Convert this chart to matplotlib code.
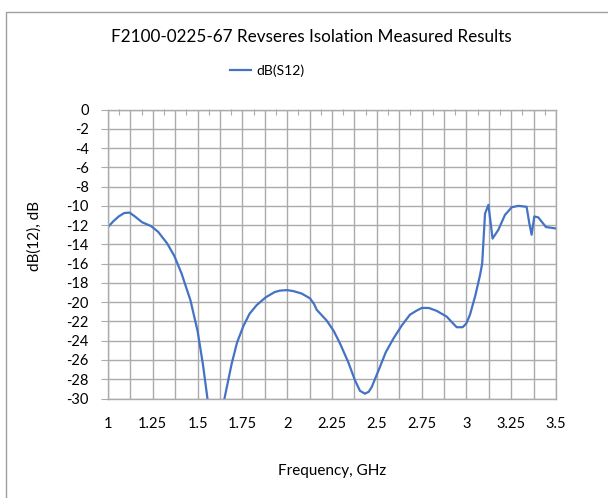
import matplotlib
matplotlib.use('Agg')
import matplotlib.pyplot as plt
from matplotlib.ticker import MultipleLocator, FormatStrFormatter
from matplotlib.patches import Rectangle

plt.rcParams['font.family'] = ['Lato', 'DejaVu Sans']

# Measured S12
freq = [1.0, 1.03, 1.06, 1.09, 1.12, 1.15, 1.19, 1.24, 1.28, 1.33, 1.37, 1.41,
        1.46, 1.50, 1.53, 1.555, 1.58, 1.60, 1.625, 1.65, 1.69, 1.72, 1.755,
        1.79, 1.83, 1.88, 1.93, 1.96, 2.0, 2.034, 2.08, 2.127, 2.15, 2.165,
        2.22, 2.26, 2.295, 2.34, 2.378, 2.406, 2.434, 2.455, 2.472, 2.518,
        2.55, 2.592, 2.64, 2.685, 2.72, 2.751, 2.79, 2.834, 2.89, 2.93, 2.946,
        2.979, 3.0, 3.02, 3.05, 3.076, 3.088, 3.104, 3.123, 3.146, 3.178,
        3.215, 3.253, 3.29, 3.336, 3.351, 3.364, 3.379, 3.401, 3.444, 3.5]
s12 = [-12.2, -11.6, -11.1, -10.75, -10.7, -11.1, -11.7, -12.1, -12.7, -13.9,
       -15.2, -17.0, -19.8, -23.0, -26.5, -30.0, -33.5, -35.5, -33.5, -30.0,
       -26.4, -24.2, -22.5, -21.2, -20.3, -19.5, -18.95, -18.8, -18.75, -18.85,
       -19.1, -19.6, -20.2, -20.8, -21.9, -23.0, -24.3, -26.2, -28.1, -29.2,
       -29.5, -29.3, -28.8, -26.7, -25.2, -23.8, -22.4, -21.3, -20.9, -20.6,
       -20.6, -20.9, -21.5, -22.3, -22.6, -22.6, -22.2, -21.3, -19.3, -17.2,
       -16.0, -10.8, -9.9, -13.4, -12.5, -10.95, -10.15, -10.0, -10.1, -11.8,
       -13.0, -11.1, -11.2, -12.2, -12.35]

grid_col = '#ABABAB'

fig = plt.figure(figsize=(6.08, 4.98), dpi=100)
ax = fig.add_axes([108 / 608, 1 - 398.5 / 498, 448 / 608, 289 / 498])

ax.plot(freq, s12, color='#4472C4', lw=1.6, label='dB(S12)')

ax.set_xlim(1, 3.5)
ax.set_ylim(-30, 0)
ax.xaxis.set_major_locator(MultipleLocator(0.25))
ax.xaxis.set_minor_locator(MultipleLocator(0.125))
ax.xaxis.set_major_formatter(FormatStrFormatter('%g'))
ax.yaxis.set_major_locator(MultipleLocator(2))
ax.yaxis.set_major_formatter(FormatStrFormatter('%g'))

ax.grid(True, which='both', axis='x', color=grid_col, lw=1)
ax.grid(True, which='major', axis='y', color=grid_col, lw=1)
ax.set_axisbelow(True)
for s in ax.spines.values():
    s.set_color(grid_col)
    s.set_linewidth(1)

ax.tick_params(axis='x', which='both', length=0, pad=13, labelsize=10.5)
ax.tick_params(axis='y', which='major', length=5, color=grid_col, pad=9,
               labelsize=10.5)

# small tick marks hanging from the top axis line
top = ax.secondary_xaxis('top')
top.set_xticks([1.0625 + 0.125 * k for k in range(20)])
top.tick_params(direction='in', length=4, color=grid_col, labeltop=False)
top.spines['top'].set_visible(False)

fig.text(311 / 608, 1 - 37 / 498, 'F2100-0225-67 Revseres Isolation Measured Results',
         ha='center', va='center', fontsize=12.3)
fig.text(35 / 608, 1 - 236 / 498, 'dB(12), dB', rotation=90,
         ha='center', va='center', fontsize=11)
fig.text(332 / 608, 1 - 471 / 498, 'Frequency, GHz',
         ha='center', va='center', fontsize=11)

ax.legend(loc='center', bbox_to_anchor=(267 / 608, 1 - 71 / 498),
          bbox_transform=fig.transFigure, frameon=False, fontsize=10,
          handlelength=1.5, handletextpad=0.4)

# chart area border
fig.patches.append(Rectangle((6 / 608, -0.05), 1.0, 1 - 12 / 498 + 0.05,
                             transform=fig.transFigure, fill=False,
                             edgecolor='#A0A0A0', lw=1))

fig.savefig('out.png', dpi=100)
